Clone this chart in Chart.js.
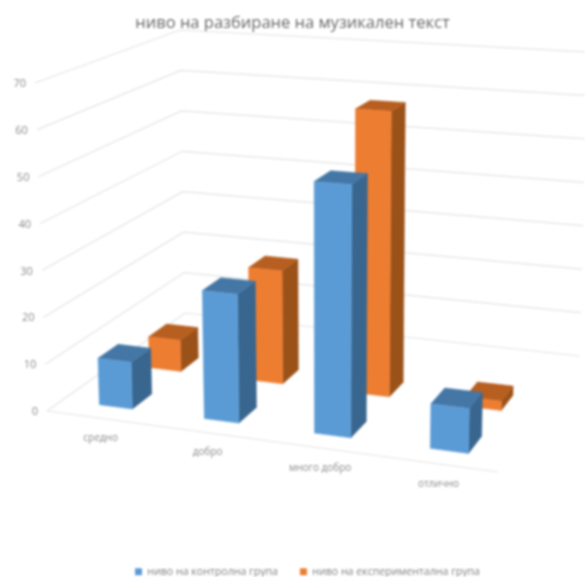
<!DOCTYPE html>
<html><head><meta charset="utf-8">
<style>html,body{margin:0;padding:0;background:#fff}canvas{display:block;filter:blur(.9px)}</style>
<script src="https://cdn.jsdelivr.net/npm/chart.js@4"></script></head>
<body><canvas id="c" width="585" height="577"></canvas>
<script>
const categories = ['средно','добро','много добро','отлично'];
const controlValues = [10,27,52,9];
const experimentValues = [7,25,62,2];
const controlName = 'ниво на контролна група';
const experimentName = 'ниво на експериментална група';
const chartTitle = 'ниво на разбиране на музикален текст';
const yMax = 70, yStep = 10;

// camera of the 3-D box: where the unit box's corners land on the page
const floorQuad = [[47,411],[498,472],[580,356],[185,313]];
const topQuad   = [[35,83],[506,115],[587,52],[180,30]];
const rows = [[0.10,0.235],[0.45,0.585]];
const barShift = 0.005;
const faceColors = [
  {front:'#5b9bd5',top:'#4477a6',side:'#39668f'},
  {front:'#ed7d31',top:'#b75f20',side:'#9b5219'}];
const GRID='#e4e4e4', TICK='#8a8a8a';
const LEGEND_DROP=10, LEGEND_SHIFT=15;

function quadMap(q){
  const [[x0,y0],[x1,y1],[x2,y2],[x3,y3]]=q;
  const dx1=x1-x2,dx2=x3-x2,sx=x0-x1+x2-x3,dy1=y1-y2,dy2=y3-y2,sy=y0-y1+y2-y3;
  const den=dx1*dy2-dx2*dy1,g=(sx*dy2-dx2*sy)/den,h=(dx1*sy-sx*dy1)/den;
  const a=x1-x0+g*x1,b=x3-x0+h*x3,d=y1-y0+g*y1,e=y3-y0+h*y3;
  return (u,v)=>{const w=g*u+h*v+1;return [(a*u+b*v+x0)/w,(d*u+e*v+y0)/w];};
}
const floorMap=quadMap(floorQuad), topMap=quadMap(topQuad);
function project(u,v,t){const p=floorMap(u,v),q=topMap(u,v);return [p[0]+(q[0]-p[0])*t,p[1]+(q[1]-p[1])*t];}
function poly(ctx,pts,fill){ctx.beginPath();pts.forEach((p,i)=>i?ctx.lineTo(p[0],p[1]):ctx.moveTo(p[0],p[1]));ctx.closePath();ctx.fillStyle=fill;ctx.strokeStyle=fill;ctx.lineWidth=.5;ctx.fill();ctx.stroke();}

const box3d={id:'box3d',
  afterLayout(chart){const l=chart.legend;l.top+=LEGEND_DROP;l.bottom+=LEGEND_DROP;l.left+=LEGEND_SHIFT;l.right+=LEGEND_SHIFT;},
  beforeDatasetsDraw(chart){
    const ctx=chart.ctx,y=chart.scales.y,x=chart.scales.x;
    ctx.save();ctx.strokeStyle=GRID;ctx.lineWidth=1.2;
    const norm=v=>(y.bottom-y.getPixelForValue(v))/(y.bottom-y.top);
    y.ticks.forEach(tk=>{
      const t=norm(tk.value),a=project(0,0,t),b=project(0,1,t),c=project(1,1,t);
      ctx.beginPath();ctx.moveTo(...a);ctx.lineTo(...b);ctx.lineTo(...c);ctx.stroke();
      ctx.fillStyle=TICK;ctx.font='11px "Open Sans"';ctx.textAlign='right';ctx.textBaseline='middle';
      ctx.fillText(String(tk.value),a[0]-9,a[1]+1);
    });
    const f0=project(0,0,0),f1=project(1,0,0);
    ctx.beginPath();ctx.moveTo(...f0);ctx.lineTo(...f1);ctx.stroke();
    ctx.fillStyle=TICK;ctx.font='10px "Open Sans"';ctx.textAlign='center';
    categories.forEach((c,i)=>{
      const u=(x.getPixelForValue(i)-x.left)/(x.right-x.left),p=project(u,0,0);
      ctx.fillText(c,p[0]+2,p[1]+20);
    });
    ctx.restore();
  },
  beforeDatasetDraw(chart,args){
    const ctx=chart.ctx,x=chart.scales.x,y=chart.scales.y,i=args.index,col=faceColors[i],[v0,v1]=rows[i];
    args.meta.data.forEach(bar=>{
      const u0=(bar.x-bar.width/2-x.left)/(x.right-x.left)+barShift,u1=(bar.x+bar.width/2-x.left)/(x.right-x.left)+barShift;
      const t=(y.bottom-bar.y)/(y.bottom-y.top);
      const P=(u,v,h)=>project(u,v,h);
      poly(ctx,[P(u1,v0,0),P(u1,v1,0),P(u1,v1,t),P(u1,v0,t)],col.side);
      poly(ctx,[P(u0,v0,t),P(u1,v0,t),P(u1,v1,t),P(u0,v1,t)],col.top);
      poly(ctx,[P(u0,v0,0),P(u1,v0,0),P(u1,v0,t),P(u0,v0,t)],col.front);
    });
    return false;
  }
};

new Chart(document.getElementById('c'),{
  type:'bar',
  data:{labels:categories,datasets:[
    {label:controlName,data:controlValues,backgroundColor:faceColors[0].front,grouped:false},
    {label:experimentName,data:experimentValues,backgroundColor:faceColors[1].front,grouped:false}]},
  plugins:[box3d],
  options:{responsive:false,animation:false,
    barPercentage:.565,categoryPercentage:.565,
    scales:{
      x:{display:false},
      y:{display:false,min:0,max:yMax,ticks:{stepSize:yStep}}},
    plugins:{
      title:{display:true,text:chartTitle,color:'#6a6a6a',font:{family:'"Open Sans"',size:16.5,weight:'normal'},padding:{top:13,bottom:8}},
      legend:{position:'bottom',labels:{boxWidth:7,boxHeight:7,color:'#7f7f7f',font:{family:'"Open Sans"',size:10.6},padding:22}},
      tooltip:{enabled:false}}}
});
</script></body></html>
